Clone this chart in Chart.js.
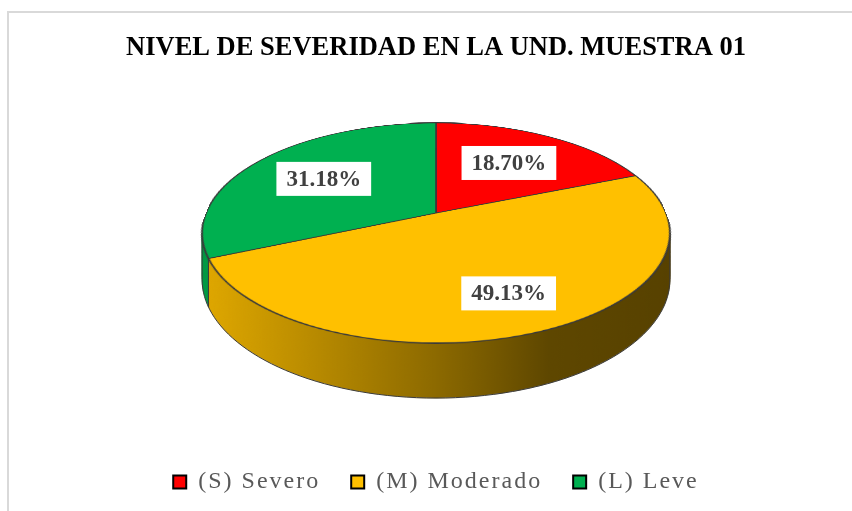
<!DOCTYPE html>
<html>
<head>
<meta charset="utf-8">
<title>Nivel de severidad</title>
<script src="https://cdn.jsdelivr.net/npm/chart.js@4.4.1/dist/chart.umd.min.js"></script>
<style>
  html, body { margin: 0; padding: 0; background: #fff; overflow: hidden; }
  #wrap { position: relative; width: 852px; height: 511px; overflow: hidden; }
  #frame { position: absolute; left: 7px; top: 11px; width: 900px; height: 600px; border: 2px solid #d9d9d9; box-sizing: border-box; }
  #chart { position: absolute; left: 0; top: 0; }
</style>
</head>
<body>
<div id="wrap">
  <div id="frame"></div>
  <canvas id="chart" width="852" height="511"></canvas>
</div>
<script>
// Data
const TITLE = 'NIVEL DE SEVERIDAD EN LA UND. MUESTRA 01';
const CATEGORIES = ['(S) Severo', '(M) Moderado', '(L) Leve'];
const PERCENTS = [18.70, 49.13, 31.18];
const SLICE_COLORS = ['#ff0000', '#ffc000', '#00b050'];

// Look
const FONT = "'Times New Roman', 'Liberation Serif', serif";
const OUTLINE = '#3a3a3a';
const LEGEND_SPACING = '2px';

// 3D view: tilted pie seen in perspective
const VIEW_CY = 213;      // screen y of the pie centre
const VIEW_RX = 230;      // horizontal radius
const VIEW_RY = 106.4;    // vertical radius (before perspective)
const VIEW_P = 0.1818;    // perspective strength
const VIEW_DEPTH = 45;    // thickness of the side wall
const SRC_R = 230;        // radius of the flat pie drawn off screen
const SRC_PAD = 4;
const LABEL_R = [0.62, 0.72, 0.62];  // label distance from centre, per slice

// circle coords (u, v in -1..1) -> screen
function project(cx, u, v, t) {
    const s = 1 / (1 - VIEW_P * v);
    return { x: cx + VIEW_RX * u * s, y: VIEW_CY + (VIEW_RY * v + t) * s };
}

// screen row -> circle v, for a layer shifted down by t
function rowToV(y, t) {
    const d = y - VIEW_CY;
    return (d - t) / (VIEW_RY + VIEW_P * d);
}

// Warp the flat pie row by row onto the tilted ellipse
function drawLayer(ctx, src, cx, t) {
    const yTop = Math.floor(VIEW_CY + (-VIEW_RY + t) / (1 + VIEW_P));
    const yBot = Math.ceil(VIEW_CY + (VIEW_RY + t) / (1 - VIEW_P));
    for (let y = yTop; y < yBot; y++) {
        const v0 = Math.max(rowToV(y, t), -1);
        const v1 = Math.min(rowToV(y + 1, t), 1);
        if (v1 <= v0) continue;
        const s = 1 / (1 - VIEW_P * (v0 + v1) / 2);
        const sy = SRC_PAD + SRC_R + v0 * SRC_R;
        const sh = Math.max((v1 - v0) * SRC_R, 0.5);
        ctx.drawImage(src, SRC_PAD, sy, 2 * SRC_R, sh, cx - VIEW_RX * s, y, 2 * VIEW_RX * s, 1);
    }
}

// Flat pie drawn by the arc elements into its own canvas
function flatPie(arcs, withBorder) {
    const size = 2 * (SRC_R + SRC_PAD);
    const c = document.createElement('canvas');
    c.width = c.height = size;
    const fctx = c.getContext('2d');
    const k = SRC_R / arcs[0].outerRadius;
    fctx.setTransform(k, 0, 0, k, SRC_R + SRC_PAD - k * arcs[0].x, SRC_R + SRC_PAD - k * arcs[0].y);
    arcs.forEach(a => {
        if (withBorder) {
            a.draw(fctx);
        } else {
            const o = a.options;
            a.options = Object.assign({}, o, { borderWidth: 0 });
            a.draw(fctx);
            a.options = o;
        }
    });
    return c;
}

function strokeRim(ctx, cx, a0, a1, t) {
    ctx.beginPath();
    for (let i = 0; i <= 80; i++) {
        const a = a0 + (a1 - a0) * i / 80;
        const p = project(cx, Math.cos(a), Math.sin(a), t);
        if (i) ctx.lineTo(p.x, p.y); else ctx.moveTo(p.x, p.y);
    }
    ctx.stroke();
}

function strokeEdge(ctx, cx, a) {
    const p0 = project(cx, Math.cos(a), Math.sin(a), 0);
    const p1 = project(cx, Math.cos(a), Math.sin(a), VIEW_DEPTH);
    ctx.beginPath();
    ctx.moveTo(p0.x, p0.y);
    ctx.lineTo(p1.x, p1.y);
    ctx.stroke();
}

const pie3d = {
    id: 'pie3d',
    afterInit(chart) {
        // legend text in the reference is letter-spaced
        const legend = chart.legend;
        const fit = legend.fit;
        const draw = legend.draw;
        legend.fit = function () {
            this.ctx.letterSpacing = LEGEND_SPACING;
            fit.call(this);
            this.ctx.letterSpacing = '0px';
        };
        legend.draw = function (area) {
            this.ctx.letterSpacing = LEGEND_SPACING;
            draw.call(this, area);
            this.ctx.letterSpacing = '0px';
        };
    },
    beforeDatasetsDraw(chart) {
        const ctx = chart.ctx;
        const arcs = chart.getDatasetMeta(0).data;
        const area = chart.chartArea;
        const cx = (area.left + area.right) / 2;

        const top = flatPie(arcs, true);
        const fill = flatPie(arcs, false);

        // side wall: stacked layers, then shaded left to right
        const side = document.createElement('canvas');
        side.width = chart.width;
        side.height = chart.height;
        const sctx = side.getContext('2d');
        for (let t = VIEW_DEPTH; t >= 1; t--) drawLayer(sctx, fill, cx, t);
        sctx.globalCompositeOperation = 'source-atop';
        const g = sctx.createLinearGradient(cx - 235, 0, cx + 235, 0);
        g.addColorStop(0, 'rgba(0,0,0,0.12)');
        g.addColorStop(0.21, 'rgba(0,0,0,0.26)');
        g.addColorStop(0.5, 'rgba(0,0,0,0.45)');
        g.addColorStop(0.74, 'rgba(0,0,0,0.63)');
        g.addColorStop(1, 'rgba(0,0,0,0.66)');
        sctx.fillStyle = g;
        sctx.fillRect(0, 0, side.width, side.height);

        ctx.save();
        ctx.drawImage(side, 0, 0);

        // outlines of the side wall
        const aL = Math.PI - Math.asin(VIEW_P);
        const aR = Math.asin(VIEW_P);
        ctx.strokeStyle = OUTLINE;
        ctx.lineWidth = 1;
        strokeRim(ctx, cx, aR, aL, VIEW_DEPTH);
        strokeEdge(ctx, cx, aR);
        strokeEdge(ctx, cx, aL);
        arcs.forEach(a => {
            const ang = ((a.startAngle % (2 * Math.PI)) + 2 * Math.PI) % (2 * Math.PI);
            if (ang > aR && ang < aL) strokeEdge(ctx, cx, ang);
        });

        drawLayer(ctx, top, cx, 0);

        // value labels in white boxes
        ctx.font = 'bold 23px ' + FONT;
        ctx.textAlign = 'center';
        ctx.textBaseline = 'middle';
        arcs.forEach((a, i) => {
            const mid = (a.startAngle + a.endAngle) / 2;
            const p = project(cx, LABEL_R[i] * Math.cos(mid), LABEL_R[i] * Math.sin(mid), 0);
            const text = PERCENTS[i].toFixed(2) + '%';
            const w = ctx.measureText(text).width + 20;
            ctx.fillStyle = '#ffffff';
            ctx.fillRect(p.x - w / 2, p.y - 17, w, 34);
            ctx.fillStyle = '#404040';
            ctx.fillText(text, p.x, p.y + 1);
        });
        ctx.restore();
        return false;
    }
};

// Build chart
const chart = new Chart(document.getElementById('chart'), {
    type: 'pie',
    data: {
        labels: CATEGORIES,
        datasets: [{
            data: PERCENTS,
            backgroundColor: SLICE_COLORS,
            borderColor: OUTLINE,
            borderWidth: 1.4
        }]
    },
    options: {
        responsive: false,
        animation: false,
        events: [],
        layout: { padding: { left: 20, right: 0, top: 0, bottom: 7 } },
        plugins: {
            title: {
                display: true,
                text: TITLE,
                color: '#000',
                font: { family: FONT, size: 26.5, weight: 'bold' },
                padding: { top: 32, bottom: 10 }
            },
            legend: {
                position: 'bottom',
                labels: {
                    boxWidth: 13,
                    boxHeight: 13,
                    padding: 31,
                    color: '#595959',
                    font: { family: FONT, size: 24 },
                    generateLabels: () => CATEGORIES.map((text, i) => ({
                        text: text,
                        fillStyle: SLICE_COLORS[i],
                        strokeStyle: '#000',
                        lineWidth: 2,
                        fontColor: '#595959',
                        hidden: false,
                        index: i
                    }))
                }
            },
            tooltip: { enabled: false }
        }
    },
    plugins: [pie3d]
});
</script>
</body>
</html>
